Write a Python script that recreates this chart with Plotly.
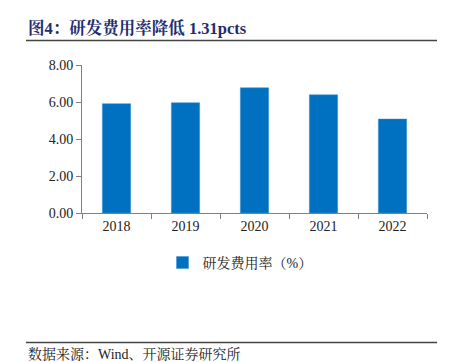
import plotly.graph_objects as go

years = ["2018", "2019", "2020", "2021", "2022"]
rd_rate = [5.91, 5.96, 6.77, 6.39, 5.08]
y_ticks = [0, 2, 4, 6, 8]
y_tick_labels = ["0.00", "2.00", "4.00", "6.00", "8.00"]

W, H = 452, 362
L, R, T, B = 82, 25, 65, 149
pw, ph = W - L - R, H - T - B

def px(x):
    return (x - L) / pw

def py(y):
    return (H - B - y) / ph

serif = "Liberation Serif, Times New Roman, serif"
cjk = "Liberation Serif, Noto Serif CJK SC, Noto Sans CJK SC, serif"

fig = go.Figure()
fig.add_trace(go.Bar(
    x=years, y=rd_rate, name="研发费用率（%）",
    marker=dict(color="#0070C0", line=dict(color="#3D8FD0", width=0.5)),
    width=0.41,
))

fig.update_layout(
    width=W, height=H, autosize=False,
    margin=dict(l=L, r=R, t=T, b=B),
    paper_bgcolor="white", plot_bgcolor="white",
    showlegend=True,
    legend=dict(orientation="h", x=px(240), y=py(263), xanchor="center", yanchor="middle",
                font=dict(family=cjk, size=14, color="#222"), itemwidth=30),
    xaxis=dict(type="category", tickson="boundaries", ticks="outside", ticklen=5,
               tickcolor="#808080", showline=True, linecolor="#808080", linewidth=1,
               tickfont=dict(family=serif, size=14, color="#222"), showgrid=False),
    yaxis=dict(range=[0, 8], tickvals=y_ticks, ticktext=y_tick_labels, ticks="outside",
               ticklen=5, tickcolor="#808080", showline=True, linecolor="#808080",
               linewidth=1, tickfont=dict(family=serif, size=14, color="#222"),
               showgrid=False, zeroline=False),
    shapes=[
        dict(type="line", xref="paper", yref="paper", x0=px(26), x1=px(437), y0=py(40.5), y1=py(40.5),
             line=dict(color="#444", width=1.5)),
        dict(type="line", xref="paper", yref="paper", x0=px(26), x1=px(437), y0=py(342.5), y1=py(342.5),
             line=dict(color="#444", width=1.5)),
    ],
    annotations=[
        dict(text="<b>图4：研发费用率降低 1.31pcts</b>", xref="paper", yref="paper",
             x=px(26), y=py(28), xanchor="left", yanchor="middle", showarrow=False,
             font=dict(family=cjk, size=16.5, color="#1F2D6E")),
        dict(text="数据来源：Wind、开源证券研究所", xref="paper", yref="paper",
             x=px(26), y=py(354), xanchor="left", yanchor="middle", showarrow=False,
             font=dict(family=cjk, size=14, color="#222")),
    ],
)

fig.write_html(
    "out.html",
    config={"responsive": False, "displayModeBar": False},
    default_width="452px", default_height="362px",
    post_script="document.body.style.margin='0';document.body.style.overflow='hidden';",
)
